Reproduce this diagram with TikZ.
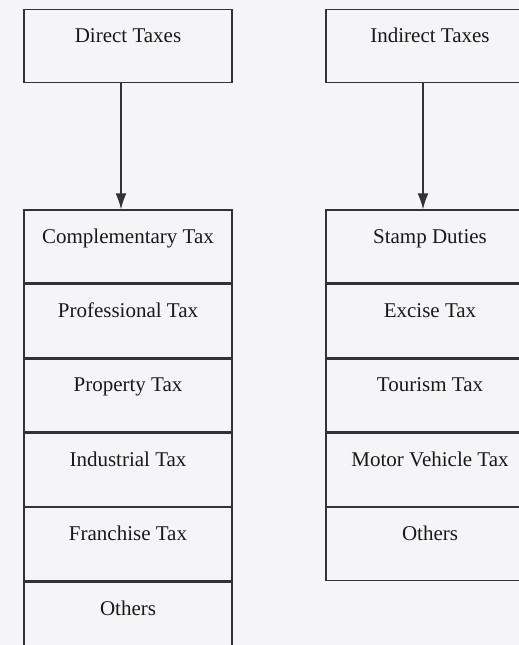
\documentclass[tikz,border=0pt]{standalone}
\usepackage{fontspec}
\setmainfont{Liberation Serif}
\usetikzlibrary{positioning,arrows.meta}
\definecolor{paper}{rgb}{0.96,0.96,0.97}
\definecolor{ink}{rgb}{0.2,0.2,0.2}
\begin{document}
\begin{tikzpicture}[x=1pt,y=1pt,
  cell/.style={draw=ink,line width=1.4pt,minimum width=208pt,inner sep=0pt,
    text height=33pt,text depth=40pt,text=black!90,
    font=\fontsize{21}{25}\selectfont},
  arr/.style={draw=ink,line width=1.4pt,-{Latex[length=16pt,width=11pt]}}]
\useasboundingbox (0,0) rectangle (519,-645);
\fill[paper] (0,0) rectangle (519,-645);
\clip (0,0) rectangle (519,-645);
\node[cell] (dt) at (128,-46) {Direct Taxes};
\node[cell] (it) at (430,-46) {Indirect Taxes};
\node[cell] (d1) at (128,-246.5) {Complementary Tax};
\node[cell,below=0pt of d1] (d2) {Professional Tax};
\node[cell,below=0pt of d2] (d3) {Property Tax};
\node[cell,below=0pt of d3] (d4) {Industrial Tax};
\node[cell,below=0pt of d4] (d5) {Franchise Tax};
\node[cell,below=0pt of d5] (d6) {Others};
\node[cell] (i1) at (430,-246.5) {Stamp Duties};
\node[cell,below=0pt of i1] (i2) {Excise Tax};
\node[cell,below=0pt of i2] (i3) {Tourism Tax};
\node[cell,below=0pt of i3] (i4) {Motor Vehicle Tax};
\node[cell,below=0pt of i4] (i5) {Others};
\draw[arr] ([xshift=-7pt]dt.south) -- ([xshift=-7pt]d1.north);
\draw[arr] ([xshift=-7pt]it.south) -- ([xshift=-7pt]i1.north);
\end{tikzpicture}
\end{document}
